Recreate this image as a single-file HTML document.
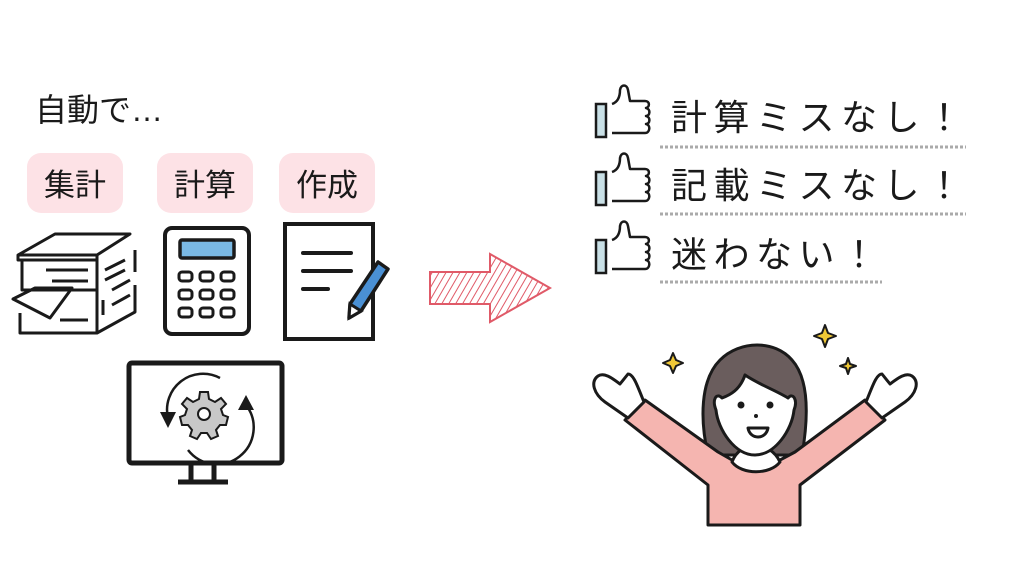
<!DOCTYPE html>
<html><head><meta charset="utf-8"><style>
html,body{margin:0;padding:0;background:#fff;}
svg{display:block}
text{font-family:"Liberation Sans","Noto Sans CJK JP",sans-serif;fill:#1a1a1a}
</style></head><body>
<svg width="1024" height="576" viewBox="0 0 1024 576" xmlns="http://www.w3.org/2000/svg">
<defs>
<pattern id="h" width="6" height="6" patternUnits="userSpaceOnUse" patternTransform="rotate(30)">
<rect width="6" height="6" fill="#fff"/><line x1="0" y1="0" x2="0" y2="6" stroke="#e05a68" stroke-width="2"/>
</pattern>
</defs>
<text x="35" y="121" font-size="32">自動で<tspan>…</tspan></text>
<rect x="27" y="153" width="96" height="60" rx="14" fill="#fde2e6"/>
<rect x="157" y="153" width="96" height="60" rx="14" fill="#fde2e6"/>
<rect x="279" y="153" width="96" height="60" rx="14" fill="#fde2e6"/>
<text x="75" y="196" font-size="31" text-anchor="middle">集計</text>
<text x="205" y="196" font-size="31" text-anchor="middle">計算</text>
<text x="327" y="196" font-size="31" text-anchor="middle">作成</text>

<g fill="none" stroke="#1a1a1a" stroke-width="3" stroke-linejoin="round">
<path d="M18 255 L55 234 L130 234 L97 255 Z"/>
<path d="M18 255 L18 260 L97 260"/>
<path d="M22 260 L22 290 L97 290"/>
<path d="M97 255 L97 333 L20 333 L20 313"/>
<path d="M46 270 L88 270 M52 281 L88 281"/>
<path d="M13 299 L35 288 L72 288 L50 318 Z"/>
<path d="M60 320 L88 320"/>
<path d="M97 333 L135 312 L135 285 M135 272 L135 250"/>
<path d="M105 270 L125 260 M105 280 L125 270 M112 290 L130 280 M112 305 L130 295"/>
<path d="M103 300 L103 315"/>
</g>
<rect x="165" y="228" width="84" height="106" rx="7" fill="#fff" stroke="#1a1a1a" stroke-width="4"/>
<rect x="180" y="240" width="54" height="18" rx="2" fill="#7ab9e4" stroke="#1a1a1a" stroke-width="3.5"/>
<g fill="none" stroke="#1a1a1a" stroke-width="3">
<rect x="179" y="272" width="13" height="9" rx="3"/><rect x="200" y="272" width="13" height="9" rx="3"/><rect x="221" y="272" width="13" height="9" rx="3"/>
<rect x="179" y="290" width="13" height="9" rx="3"/><rect x="200" y="290" width="13" height="9" rx="3"/><rect x="221" y="290" width="13" height="9" rx="3"/>
<rect x="179" y="308" width="13" height="9" rx="3"/><rect x="200" y="308" width="13" height="9" rx="3"/><rect x="221" y="308" width="13" height="9" rx="3"/>
</g>
<rect x="285" y="224" width="88" height="115" fill="#fff" stroke="#1a1a1a" stroke-width="4"/>
<g stroke="#1a1a1a" stroke-width="4" stroke-linecap="round">
<line x1="303" y1="253" x2="351" y2="253"/><line x1="303" y1="271" x2="351" y2="271"/><line x1="303" y1="289" x2="328" y2="289"/>
</g>
<path d="M378 262 L388 269 L361 311 L349 318 L350 304 Z" fill="#4a90d4" stroke="#1a1a1a" stroke-width="3.5" stroke-linejoin="round"/>
<path d="M350 304 L361 311 L349 318 Z" fill="#fff" stroke="#1a1a1a" stroke-width="3"/>
<rect x="129" y="363" width="153" height="100" rx="3" fill="#fff" stroke="#1a1a1a" stroke-width="5"/>
<path d="M191 463 L191 480 M214 463 L214 480 M178 482 L228 482" stroke="#1a1a1a" stroke-width="5"/>
<path d="M220 378 A36 36 0 0 0 168 418" fill="none" stroke="#1a1a1a" stroke-width="2.5"/>
<path d="M160 412 L176 412 L168 428 Z" fill="#1a1a1a"/>
<path d="M188 450 A36 36 0 0 0 246 405" fill="none" stroke="#1a1a1a" stroke-width="2.5"/>
<path d="M238 410 L254 410 L246 395 Z" fill="#1a1a1a"/>
<g transform="translate(204,414)">
<path d="M-4 -22 L4 -22 L5 -15 L11 -12 L17 -16 L22 -10 L17 -5 L19 1 L24 3 L22 11 L16 11 L12 16 L14 22 L7 25 L3 19 L-3 19 L-7 25 L-14 22 L-12 16 L-16 11 L-22 11 L-24 3 L-19 1 L-17 -5 L-22 -10 L-17 -16 L-11 -12 L-5 -15 Z" fill="#c8c8c8" stroke="#1a1a1a" stroke-width="2"/>
<circle r="6" fill="#fff" stroke="#1a1a1a" stroke-width="2"/>
</g>
<path d="M430 272 L490 272 L490 254 L550 288 L490 322 L490 304 L430 304 Z" fill="url(#h)" stroke="#e05a68" stroke-width="2"/>

<g id="th">
<rect x="596" y="104" width="10" height="33" fill="#c9e0e6" stroke="#1a1a1a" stroke-width="2.5"/>
<path d="M612 104 C618 102 620 96 620 90 C621 84 627 84 628 90 L630 101 L645 101 C650 101 650 107 646 108 C651 109 650 116 646 116 C651 117 650 124 646 124 C651 125 650 133 645 133 L612 133" fill="#fff" stroke="#1a1a1a" stroke-width="2.5" stroke-linejoin="round"/>
</g>
<use href="#th" y="68"/>
<use href="#th" y="136"/>
<text x="671" y="130" font-size="36" letter-spacing="6.5">計算ミスなし！</text>
<text x="671" y="198" font-size="36" letter-spacing="6.5">記載ミスなし！</text>
<text x="671" y="267" font-size="36" letter-spacing="6.5">迷わない！</text>
<g stroke="#aaa" stroke-width="3" stroke-dasharray="3 2">
<line x1="660" y1="147" x2="966" y2="147"/><line x1="660" y1="214" x2="966" y2="214"/><line x1="660" y1="282" x2="882" y2="282"/>
</g>

<g stroke="#1a1a1a" stroke-width="3" stroke-linejoin="round">
<path d="M708 455 C700 420 700 380 720 360 C740 340 775 340 792 360 C810 380 808 420 802 455 Z" fill="#6a5d5d"/>
<path d="M625 420 L645 400 L718 452 L732 460 L780 460 L795 452 L865 400 L885 420 L800 485 L800 525 L708 525 L708 485 Z" fill="#f5b5b0"/>
<path d="M732 462 C740 440 770 440 780 462 C770 475 742 475 732 462 Z" fill="#fff"/>
<path d="M745 375 C740 390 730 395 722 398 C716 392 712 400 716 410 C718 430 735 455 755 455 C775 455 792 430 794 410 C798 400 793 392 788 398 C775 390 760 385 745 375 Z" fill="#fff"/>
<path d="M628 418 L605 402 C594 394 590 382 598 376 C604 372 612 378 620 384 L628 374 C634 374 638 388 644 402 Z" fill="#fff"/>
<path d="M882 418 L905 402 C916 394 920 382 912 376 C906 372 898 378 890 384 L882 374 C876 374 872 388 866 402 Z" fill="#fff"/>
<path d="M748 428 L768 428 C766 440 750 440 748 428 Z" fill="#fff"/>
</g>
<circle cx="741" cy="405" r="3.5" fill="#1a1a1a"/><circle cx="770" cy="405" r="3.5" fill="#1a1a1a"/><circle cx="756" cy="416" r="2" fill="#1a1a1a"/>
<g fill="#f0c836" stroke="#1a1a1a" stroke-width="2" stroke-linejoin="round">
<path d="M673 353 L676 360 L683 363 L676 366 L673 373 L670 366 L663 363 L670 360 Z"/>
<path d="M825 325 L828 333 L836 336 L828 339 L825 347 L822 339 L814 336 L822 333 Z"/>
<path d="M848 358 L850 364 L856 366 L850 368 L848 374 L846 368 L840 366 L846 364 Z"/>
</g>
</svg>
</body></html>
